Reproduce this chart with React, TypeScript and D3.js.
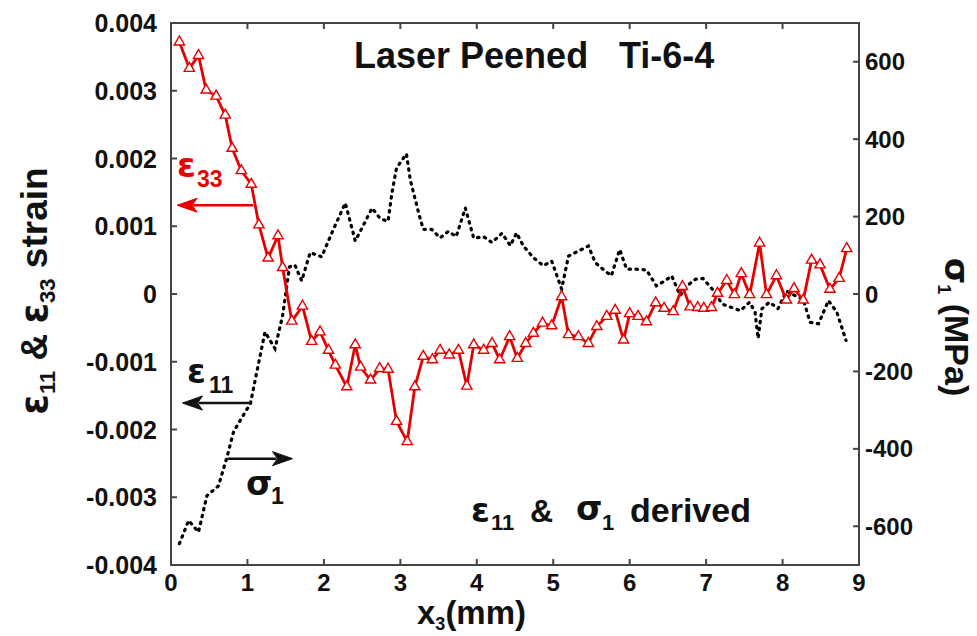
import React from 'react';
import * as d3 from 'd3';

const W = 977;
const H = 636;
const box = { left: 171, right: 859, top: 23, bottom: 565 };

// measured e33 strain (units of 0.001) vs depth x3 (mm)
const e33X = [0.11, 0.24, 0.36, 0.46, 0.59, 0.71, 0.80, 0.92, 1.05, 1.15, 1.27, 1.40, 1.46, 1.58, 1.72, 1.84, 1.95, 2.06, 2.15, 2.30,
  2.41, 2.48, 2.61, 2.73, 2.84, 2.95, 3.09, 3.19, 3.30, 3.42, 3.52, 3.64, 3.76, 3.87, 3.96, 4.09, 4.20, 4.30, 4.43, 4.53,
  4.64, 4.74, 4.86, 4.98, 5.11, 5.20, 5.33, 5.46, 5.57, 5.70, 5.81, 5.92, 6.00, 6.11, 6.22, 6.34, 6.45, 6.57, 6.69, 6.79,
  6.89, 6.97, 7.07, 7.15, 7.27, 7.37, 7.46, 7.57, 7.70, 7.79, 7.92, 8.05, 8.15, 8.27, 8.38, 8.49, 8.62, 8.74, 8.84];
const e33V = [3.72, 3.33, 3.52, 3.01, 2.92, 2.64, 2.15, 1.82, 1.62, 1.02, 0.53, 0.86, 0.39, -0.40, -0.18, -0.70, -0.56, -0.83, -1.05, -1.37,
  -0.75, -1.08, -1.27, -1.10, -1.11, -1.88, -2.18, -1.37, -0.92, -0.97, -0.83, -0.90, -0.83, -1.36, -0.75, -0.83, -0.73, -0.97, -0.63, -0.95,
  -0.73, -0.58, -0.43, -0.47, -0.04, -0.60, -0.63, -0.73, -0.48, -0.33, -0.24, -0.68, -0.29, -0.33, -0.41, -0.13, -0.21, -0.26, 0.11, -0.19,
  -0.20, -0.21, -0.20, 0.01, 0.20, -0.01, 0.30, -0.01, 0.75, -0.01, 0.27, -0.09, 0.08, -0.09, 0.50, 0.43, 0.07, 0.23, 0.67];

// derived sigma1 (MPa)
const s1X = [0.11, 0.23, 0.36, 0.47, 0.62, 0.73, 0.82, 1.04, 1.15, 1.23, 1.36, 1.46, 1.55, 1.62, 1.71, 1.82, 1.97, 2.12, 2.28, 2.41,
  2.50, 2.63, 2.74, 2.84, 2.89, 2.95, 3.08, 3.13, 3.24, 3.30, 3.41, 3.52, 3.63, 3.73, 3.85, 3.96, 4.09, 4.20, 4.33, 4.44,
  4.52, 4.61, 4.74, 4.87, 4.98, 5.11, 5.20, 5.33, 5.46, 5.55, 5.65, 5.76, 5.87, 5.96, 6.09, 6.22, 6.35, 6.46, 6.55, 6.66,
  6.75, 6.86, 6.96, 7.10, 7.21, 7.32, 7.45, 7.57, 7.64, 7.68, 7.73, 7.83, 7.94, 8.05, 8.16, 8.27, 8.36, 8.47, 8.60, 8.71, 8.83];
const s1V = [-645, -585, -615, -521, -496, -423, -355, -282, -175, -98, -141, -56, 70, 75, 34, 107, 96, 165, 235, 137,
  171, 222, 194, 188, 261, 325, 362, 295, 209, 167, 167, 145, 162, 148, 222, 144, 148, 133, 157, 125,
  158, 124, 94, 73, 85, 13, 98, 111, 124, 81, 64, 47, 115, 64, 64, 62, 21, 34, 47, -4,
  21, 38, 40, 8, -26, -34, -43, -21, -47, -115, -38, -21, -38, 8, -4, -13, -73, -77, -17, -47, -120];

const xTicks = [0, 1, 2, 3, 4, 5, 6, 7, 8, 9];
const leftTicks = [-0.004, -0.003, -0.002, -0.001, 0, 0.001, 0.002, 0.003, 0.004];
const leftLabels = ['-0.004', '-0.003', '-0.002', '-0.001', '0', '0.001', '0.002', '0.003', '0.004'];
const rightTicks = [-600, -400, -200, 0, 200, 400, 600];

const x = d3.scaleLinear().domain([0, 9]).range([box.left, box.right]);
const yL = d3.scaleLinear().domain([-0.004, 0.004]).range([box.bottom, box.top]);
const yR = d3.scaleLinear().domain([-700, 700]).range([box.bottom, box.top]);

const red = '#e60000';
const axisCol = '#444';
const font = 'Arial, "Liberation Sans", sans-serif';
const greek = '"DejaVu Sans", Arial, sans-serif';

const e33Pts = e33X.map((v, i) => [v, e33V[i] / 1000] as [number, number]);
const s1Pts = s1X.map((v, i) => [v, s1V[i]] as [number, number]);

const redLine = d3.line<[number, number]>().x(d => x(d[0])).y(d => yL(d[1]))(e33Pts) || '';
const blackLine = d3.line<[number, number]>().x(d => x(d[0])).y(d => yR(d[1]))(s1Pts) || '';
const tri = d3.symbol().type(d3.symbolTriangle).size(46)() || '';

// arrow with head at (x1,y); dir = -1 left, 1 right
const arrow = (x0: number, x1: number, y: number, dir: number, col: string) => {
  const hx = x1 - dir * 20;
  return (
    <g>
      <line x1={x0} y1={y} x2={hx + dir * 4} y2={y} stroke={col} strokeWidth={2.5} />
      <path d={`M${x1},${y} L${hx},${y - 7} L${hx + dir * 5},${y} L${hx},${y + 7} Z`} fill={col} stroke={col} strokeWidth={1} strokeLinejoin="round" />
    </g>
  );
};

const App = () => {
  return (
    <svg width={W} height={H} style={{ position: 'absolute', left: 0, top: 0, background: '#fff' }} fontFamily={font} fontWeight="bold">
      <rect x={0} y={0} width={W} height={H} fill="#fff" />

      {/* frame */}
      <rect x={box.left} y={box.top} width={box.right - box.left} height={box.bottom - box.top} fill="none" stroke={axisCol} strokeWidth={2} />
      {xTicks.map(t => (
        <g key={'xt' + t}>
          <line x1={x(t)} x2={x(t)} y1={box.bottom} y2={box.bottom - 6} stroke={axisCol} strokeWidth={2} />
          <line x1={x(t)} x2={x(t)} y1={box.top} y2={box.top + 6} stroke={axisCol} strokeWidth={2} />
          <text x={x(t)} y={591} textAnchor="middle" fontSize={24} fill="#111">{t}</text>
        </g>
      ))}
      {leftTicks.map((t, i) => (
        <g key={'yl' + i}>
          <line x1={box.left} x2={box.left + 6} y1={yL(t)} y2={yL(t)} stroke={axisCol} strokeWidth={2} />
          <text x={157} y={yL(t)} dy="0.36em" textAnchor="end" fontSize={25} fill="#111">{leftLabels[i]}</text>
        </g>
      ))}
      {rightTicks.map(t => (
        <g key={'yr' + t}>
          <line x1={box.right} x2={box.right - 6} y1={yR(t)} y2={yR(t)} stroke={axisCol} strokeWidth={2} />
          <text x={865} y={yR(t)} dy="0.36em" textAnchor="start" fontSize={24} fill="#111">{t}</text>
        </g>
      ))}

      {/* axis titles */}
      <text transform="translate(47,291) rotate(-90)" textAnchor="middle" fontSize={37} fill="#111">
        <tspan fontFamily={greek}>ε</tspan><tspan fontSize={22} dy={8}>11</tspan><tspan dy={-8}> &amp; </tspan><tspan fontFamily={greek}>ε</tspan><tspan fontSize={22} dy={8}>33</tspan><tspan dy={-8}> strain</tspan>
      </text>
      <text transform="translate(945,327) rotate(90)" textAnchor="middle" fontSize={34} fill="#111">
        <tspan fontFamily={greek}>σ</tspan><tspan fontSize={18} dy={7}>1</tspan><tspan dy={-7}> (MPa)</tspan>
      </text>
      <text x={417} y={624} fontSize={33} fill="#111">
        <tspan>x</tspan><tspan fontSize={18} dy={6}>3</tspan><tspan dy={-6}>(mm)</tspan>
      </text>

      {/* series */}
      <path d={blackLine} fill="none" stroke="#000" strokeWidth={3.2} strokeDasharray="1.5 5.5" strokeLinecap="round" />
      <path d={redLine} fill="none" stroke={red} strokeWidth={2.8} strokeLinejoin="round" />
      {e33Pts.map((d, i) => (
        <path key={'m' + i} d={tri} transform={`translate(${x(d[0])},${yL(d[1])})`} fill="#fff" stroke={red} strokeWidth={1.4} />
      ))}

      {/* annotations */}
      <text x={354} y={68} fontSize={36} fill="#111">Laser Peened</text>
      <text x={619} y={68} fontSize={36} fill="#111">Ti-6-4</text>

      <text x={177} y={177} fontSize={34} fill={red} fontFamily={greek}>ε</text>
      <text x={197} y={187} fontSize={23} fill={red}>33</text>
      {arrow(x(1.075), x(0.08), yL(0.00131), -1, red)}

      <text x={187} y={383} fontSize={34} fill="#111" fontFamily={greek}>ε</text>
      <text x={209} y={393} fontSize={23} fill="#111">11</text>
      {arrow(x(1.04), x(0.15), yL(-0.00161), -1, '#111')}

      {arrow(x(0.74), x(1.59), yL(-0.00243), 1, '#111')}
      <text x={246} y={495} fontSize={34} fill="#111" fontFamily={greek}>σ</text>
      <text x={271} y={504} fontSize={23} fill="#111">1</text>

      <text x={471} y={522} fontSize={34} fill="#111" fontFamily={greek}>ε</text>
      <text x={491} y={530} fontSize={22} fill="#111">11</text>
      <text x={530} y={522} fontSize={32} fill="#111">&amp;</text>
      <text x={576} y={520} fontSize={34} fill="#111" fontFamily={greek}>σ</text>
      <text x={602} y={530} fontSize={22} fill="#111">1</text>
      <text x={630} y={522} fontSize={34} fill="#111">derived</text>
    </svg>
  );
};

export default App;
